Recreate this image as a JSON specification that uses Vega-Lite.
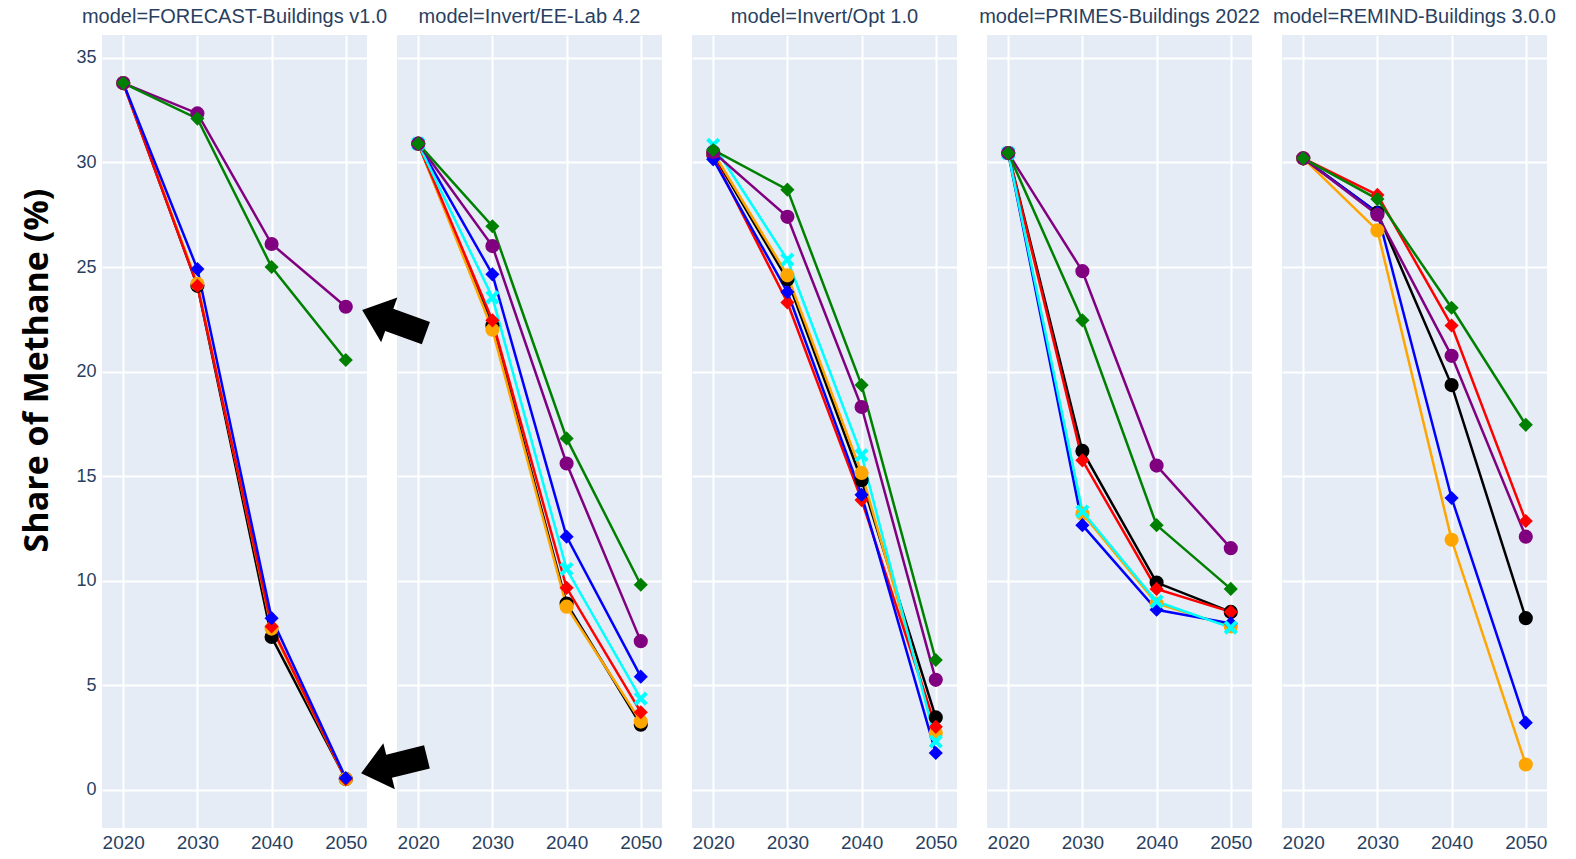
{
  "$schema": "https://vega.github.io/schema/vega-lite/v6.json",
  "background": "white",
  "padding": {"left": 20, "top": 7, "right": 0, "bottom": 0},
  "bounds": "flush",
  "data": {
    "values": [
      {"model": "model=FORECAST-Buildings v1.0", "series": "black", "kind": "series", "year": 2020, "value": 33.8},
      {"model": "model=FORECAST-Buildings v1.0", "series": "black", "kind": "series", "year": 2030, "value": 24.1},
      {"model": "model=FORECAST-Buildings v1.0", "series": "black", "kind": "series", "year": 2040, "value": 7.3},
      {"model": "model=FORECAST-Buildings v1.0", "series": "black", "kind": "series", "year": 2050, "value": 0.5},
      {"model": "model=FORECAST-Buildings v1.0", "series": "orange", "kind": "series", "year": 2020, "value": 33.8},
      {"model": "model=FORECAST-Buildings v1.0", "series": "orange", "kind": "series", "year": 2030, "value": 24.2},
      {"model": "model=FORECAST-Buildings v1.0", "series": "orange", "kind": "series", "year": 2040, "value": 7.7},
      {"model": "model=FORECAST-Buildings v1.0", "series": "orange", "kind": "series", "year": 2050, "value": 0.5},
      {"model": "model=FORECAST-Buildings v1.0", "series": "red", "kind": "series", "year": 2020, "value": 33.8},
      {"model": "model=FORECAST-Buildings v1.0", "series": "red", "kind": "series", "year": 2030, "value": 24.1},
      {"model": "model=FORECAST-Buildings v1.0", "series": "red", "kind": "series", "year": 2040, "value": 7.8},
      {"model": "model=FORECAST-Buildings v1.0", "series": "red", "kind": "series", "year": 2050, "value": 0.5},
      {"model": "model=FORECAST-Buildings v1.0", "series": "blue", "kind": "series", "year": 2020, "value": 33.8},
      {"model": "model=FORECAST-Buildings v1.0", "series": "blue", "kind": "series", "year": 2030, "value": 24.9},
      {"model": "model=FORECAST-Buildings v1.0", "series": "blue", "kind": "series", "year": 2040, "value": 8.2},
      {"model": "model=FORECAST-Buildings v1.0", "series": "blue", "kind": "series", "year": 2050, "value": 0.55},
      {"model": "model=FORECAST-Buildings v1.0", "series": "purple", "kind": "series", "year": 2020, "value": 33.8},
      {"model": "model=FORECAST-Buildings v1.0", "series": "purple", "kind": "series", "year": 2030, "value": 32.35},
      {"model": "model=FORECAST-Buildings v1.0", "series": "purple", "kind": "series", "year": 2040, "value": 26.1},
      {"model": "model=FORECAST-Buildings v1.0", "series": "purple", "kind": "series", "year": 2050, "value": 23.1},
      {"model": "model=FORECAST-Buildings v1.0", "series": "green", "kind": "series", "year": 2020, "value": 33.8},
      {"model": "model=FORECAST-Buildings v1.0", "series": "green", "kind": "series", "year": 2030, "value": 32.1},
      {"model": "model=FORECAST-Buildings v1.0", "series": "green", "kind": "series", "year": 2040, "value": 25.0},
      {"model": "model=FORECAST-Buildings v1.0", "series": "green", "kind": "series", "year": 2050, "value": 20.55},

      {"model": "model=Invert/EE-Lab 4.2", "series": "black", "kind": "series", "year": 2020, "value": 30.9},
      {"model": "model=Invert/EE-Lab 4.2", "series": "black", "kind": "series", "year": 2030, "value": 22.2},
      {"model": "model=Invert/EE-Lab 4.2", "series": "black", "kind": "series", "year": 2040, "value": 8.9},
      {"model": "model=Invert/EE-Lab 4.2", "series": "black", "kind": "series", "year": 2050, "value": 3.1},
      {"model": "model=Invert/EE-Lab 4.2", "series": "orange", "kind": "series", "year": 2020, "value": 30.9},
      {"model": "model=Invert/EE-Lab 4.2", "series": "orange", "kind": "series", "year": 2030, "value": 22.0},
      {"model": "model=Invert/EE-Lab 4.2", "series": "orange", "kind": "series", "year": 2040, "value": 8.75},
      {"model": "model=Invert/EE-Lab 4.2", "series": "orange", "kind": "series", "year": 2050, "value": 3.25},
      {"model": "model=Invert/EE-Lab 4.2", "series": "red", "kind": "series", "year": 2020, "value": 30.9},
      {"model": "model=Invert/EE-Lab 4.2", "series": "red", "kind": "series", "year": 2030, "value": 22.45},
      {"model": "model=Invert/EE-Lab 4.2", "series": "red", "kind": "series", "year": 2040, "value": 9.65},
      {"model": "model=Invert/EE-Lab 4.2", "series": "red", "kind": "series", "year": 2050, "value": 3.7},
      {"model": "model=Invert/EE-Lab 4.2", "series": "blue", "kind": "series", "year": 2020, "value": 30.9},
      {"model": "model=Invert/EE-Lab 4.2", "series": "blue", "kind": "series", "year": 2030, "value": 24.65},
      {"model": "model=Invert/EE-Lab 4.2", "series": "blue", "kind": "series", "year": 2040, "value": 12.1},
      {"model": "model=Invert/EE-Lab 4.2", "series": "blue", "kind": "series", "year": 2050, "value": 5.4},
      {"model": "model=Invert/EE-Lab 4.2", "series": "cyan", "kind": "series", "year": 2020, "value": 30.9},
      {"model": "model=Invert/EE-Lab 4.2", "series": "cyan", "kind": "series", "year": 2030, "value": 23.55},
      {"model": "model=Invert/EE-Lab 4.2", "series": "cyan", "kind": "series", "year": 2040, "value": 10.55},
      {"model": "model=Invert/EE-Lab 4.2", "series": "cyan", "kind": "series", "year": 2050, "value": 4.35},
      {"model": "model=Invert/EE-Lab 4.2", "series": "purple", "kind": "series", "year": 2020, "value": 30.9},
      {"model": "model=Invert/EE-Lab 4.2", "series": "purple", "kind": "series", "year": 2030, "value": 26.0},
      {"model": "model=Invert/EE-Lab 4.2", "series": "purple", "kind": "series", "year": 2040, "value": 15.6},
      {"model": "model=Invert/EE-Lab 4.2", "series": "purple", "kind": "series", "year": 2050, "value": 7.1},
      {"model": "model=Invert/EE-Lab 4.2", "series": "green", "kind": "series", "year": 2020, "value": 30.9},
      {"model": "model=Invert/EE-Lab 4.2", "series": "green", "kind": "series", "year": 2030, "value": 26.95},
      {"model": "model=Invert/EE-Lab 4.2", "series": "green", "kind": "series", "year": 2040, "value": 16.8},
      {"model": "model=Invert/EE-Lab 4.2", "series": "green", "kind": "series", "year": 2050, "value": 9.8},

      {"model": "model=Invert/Opt 1.0", "series": "black", "kind": "series", "year": 2020, "value": 30.4},
      {"model": "model=Invert/Opt 1.0", "series": "black", "kind": "series", "year": 2030, "value": 24.4},
      {"model": "model=Invert/Opt 1.0", "series": "black", "kind": "series", "year": 2040, "value": 14.8},
      {"model": "model=Invert/Opt 1.0", "series": "black", "kind": "series", "year": 2050, "value": 3.45},
      {"model": "model=Invert/Opt 1.0", "series": "orange", "kind": "series", "year": 2020, "value": 30.5},
      {"model": "model=Invert/Opt 1.0", "series": "orange", "kind": "series", "year": 2030, "value": 24.6},
      {"model": "model=Invert/Opt 1.0", "series": "orange", "kind": "series", "year": 2040, "value": 15.15},
      {"model": "model=Invert/Opt 1.0", "series": "orange", "kind": "series", "year": 2050, "value": 2.7},
      {"model": "model=Invert/Opt 1.0", "series": "red", "kind": "series", "year": 2020, "value": 30.3},
      {"model": "model=Invert/Opt 1.0", "series": "red", "kind": "series", "year": 2030, "value": 23.3},
      {"model": "model=Invert/Opt 1.0", "series": "red", "kind": "series", "year": 2040, "value": 13.85},
      {"model": "model=Invert/Opt 1.0", "series": "red", "kind": "series", "year": 2050, "value": 3.0},
      {"model": "model=Invert/Opt 1.0", "series": "blue", "kind": "series", "year": 2020, "value": 30.15},
      {"model": "model=Invert/Opt 1.0", "series": "blue", "kind": "series", "year": 2030, "value": 23.8},
      {"model": "model=Invert/Opt 1.0", "series": "blue", "kind": "series", "year": 2040, "value": 14.1},
      {"model": "model=Invert/Opt 1.0", "series": "blue", "kind": "series", "year": 2050, "value": 1.75},
      {"model": "model=Invert/Opt 1.0", "series": "cyan", "kind": "series", "year": 2020, "value": 30.85},
      {"model": "model=Invert/Opt 1.0", "series": "cyan", "kind": "series", "year": 2030, "value": 25.35},
      {"model": "model=Invert/Opt 1.0", "series": "cyan", "kind": "series", "year": 2040, "value": 16.0},
      {"model": "model=Invert/Opt 1.0", "series": "cyan", "kind": "series", "year": 2050, "value": 2.3},
      {"model": "model=Invert/Opt 1.0", "series": "purple", "kind": "series", "year": 2020, "value": 30.5},
      {"model": "model=Invert/Opt 1.0", "series": "purple", "kind": "series", "year": 2030, "value": 27.4},
      {"model": "model=Invert/Opt 1.0", "series": "purple", "kind": "series", "year": 2040, "value": 18.3},
      {"model": "model=Invert/Opt 1.0", "series": "purple", "kind": "series", "year": 2050, "value": 5.25},
      {"model": "model=Invert/Opt 1.0", "series": "green", "kind": "series", "year": 2020, "value": 30.6},
      {"model": "model=Invert/Opt 1.0", "series": "green", "kind": "series", "year": 2030, "value": 28.7},
      {"model": "model=Invert/Opt 1.0", "series": "green", "kind": "series", "year": 2040, "value": 19.35},
      {"model": "model=Invert/Opt 1.0", "series": "green", "kind": "series", "year": 2050, "value": 6.2},

      {"model": "model=PRIMES-Buildings 2022", "series": "black", "kind": "series", "year": 2020, "value": 30.45},
      {"model": "model=PRIMES-Buildings 2022", "series": "black", "kind": "series", "year": 2030, "value": 16.2},
      {"model": "model=PRIMES-Buildings 2022", "series": "black", "kind": "series", "year": 2040, "value": 9.9},
      {"model": "model=PRIMES-Buildings 2022", "series": "black", "kind": "series", "year": 2050, "value": 8.5},
      {"model": "model=PRIMES-Buildings 2022", "series": "orange", "kind": "series", "year": 2020, "value": 30.45},
      {"model": "model=PRIMES-Buildings 2022", "series": "orange", "kind": "series", "year": 2030, "value": 13.2},
      {"model": "model=PRIMES-Buildings 2022", "series": "orange", "kind": "series", "year": 2040, "value": 8.9},
      {"model": "model=PRIMES-Buildings 2022", "series": "orange", "kind": "series", "year": 2050, "value": 7.8},
      {"model": "model=PRIMES-Buildings 2022", "series": "red", "kind": "series", "year": 2020, "value": 30.45},
      {"model": "model=PRIMES-Buildings 2022", "series": "red", "kind": "series", "year": 2030, "value": 15.75},
      {"model": "model=PRIMES-Buildings 2022", "series": "red", "kind": "series", "year": 2040, "value": 9.6},
      {"model": "model=PRIMES-Buildings 2022", "series": "red", "kind": "series", "year": 2050, "value": 8.5},
      {"model": "model=PRIMES-Buildings 2022", "series": "blue", "kind": "series", "year": 2020, "value": 30.45},
      {"model": "model=PRIMES-Buildings 2022", "series": "blue", "kind": "series", "year": 2030, "value": 12.65},
      {"model": "model=PRIMES-Buildings 2022", "series": "blue", "kind": "series", "year": 2040, "value": 8.6},
      {"model": "model=PRIMES-Buildings 2022", "series": "blue", "kind": "series", "year": 2050, "value": 7.95},
      {"model": "model=PRIMES-Buildings 2022", "series": "cyan", "kind": "series", "year": 2020, "value": 30.45},
      {"model": "model=PRIMES-Buildings 2022", "series": "cyan", "kind": "series", "year": 2030, "value": 13.3},
      {"model": "model=PRIMES-Buildings 2022", "series": "cyan", "kind": "series", "year": 2040, "value": 9.0},
      {"model": "model=PRIMES-Buildings 2022", "series": "cyan", "kind": "series", "year": 2050, "value": 7.75},
      {"model": "model=PRIMES-Buildings 2022", "series": "purple", "kind": "series", "year": 2020, "value": 30.45},
      {"model": "model=PRIMES-Buildings 2022", "series": "purple", "kind": "series", "year": 2030, "value": 24.8},
      {"model": "model=PRIMES-Buildings 2022", "series": "purple", "kind": "series", "year": 2040, "value": 15.5},
      {"model": "model=PRIMES-Buildings 2022", "series": "purple", "kind": "series", "year": 2050, "value": 11.55},
      {"model": "model=PRIMES-Buildings 2022", "series": "green", "kind": "series", "year": 2020, "value": 30.45},
      {"model": "model=PRIMES-Buildings 2022", "series": "green", "kind": "series", "year": 2030, "value": 22.45},
      {"model": "model=PRIMES-Buildings 2022", "series": "green", "kind": "series", "year": 2040, "value": 12.65},
      {"model": "model=PRIMES-Buildings 2022", "series": "green", "kind": "series", "year": 2050, "value": 9.6},

      {"model": "model=REMIND-Buildings 3.0.0", "series": "black", "kind": "series", "year": 2020, "value": 30.2},
      {"model": "model=REMIND-Buildings 3.0.0", "series": "black", "kind": "series", "year": 2030, "value": 27.6},
      {"model": "model=REMIND-Buildings 3.0.0", "series": "black", "kind": "series", "year": 2040, "value": 19.35},
      {"model": "model=REMIND-Buildings 3.0.0", "series": "black", "kind": "series", "year": 2050, "value": 8.2},
      {"model": "model=REMIND-Buildings 3.0.0", "series": "orange", "kind": "series", "year": 2020, "value": 30.2},
      {"model": "model=REMIND-Buildings 3.0.0", "series": "orange", "kind": "series", "year": 2030, "value": 26.75},
      {"model": "model=REMIND-Buildings 3.0.0", "series": "orange", "kind": "series", "year": 2040, "value": 11.95},
      {"model": "model=REMIND-Buildings 3.0.0", "series": "orange", "kind": "series", "year": 2050, "value": 1.2},
      {"model": "model=REMIND-Buildings 3.0.0", "series": "red", "kind": "series", "year": 2020, "value": 30.2},
      {"model": "model=REMIND-Buildings 3.0.0", "series": "red", "kind": "series", "year": 2030, "value": 28.45},
      {"model": "model=REMIND-Buildings 3.0.0", "series": "red", "kind": "series", "year": 2040, "value": 22.2},
      {"model": "model=REMIND-Buildings 3.0.0", "series": "red", "kind": "series", "year": 2050, "value": 12.85},
      {"model": "model=REMIND-Buildings 3.0.0", "series": "blue", "kind": "series", "year": 2020, "value": 30.2},
      {"model": "model=REMIND-Buildings 3.0.0", "series": "blue", "kind": "series", "year": 2030, "value": 27.6},
      {"model": "model=REMIND-Buildings 3.0.0", "series": "blue", "kind": "series", "year": 2040, "value": 13.95},
      {"model": "model=REMIND-Buildings 3.0.0", "series": "blue", "kind": "series", "year": 2050, "value": 3.2},
      {"model": "model=REMIND-Buildings 3.0.0", "series": "purple", "kind": "series", "year": 2020, "value": 30.2},
      {"model": "model=REMIND-Buildings 3.0.0", "series": "purple", "kind": "series", "year": 2030, "value": 27.5},
      {"model": "model=REMIND-Buildings 3.0.0", "series": "purple", "kind": "series", "year": 2040, "value": 20.75},
      {"model": "model=REMIND-Buildings 3.0.0", "series": "purple", "kind": "series", "year": 2050, "value": 12.1},
      {"model": "model=REMIND-Buildings 3.0.0", "series": "green", "kind": "series", "year": 2020, "value": 30.2},
      {"model": "model=REMIND-Buildings 3.0.0", "series": "green", "kind": "series", "year": 2030, "value": 28.25},
      {"model": "model=REMIND-Buildings 3.0.0", "series": "green", "kind": "series", "year": 2040, "value": 23.05},
      {"model": "model=REMIND-Buildings 3.0.0", "series": "green", "kind": "series", "year": 2050, "value": 17.45},

      {"model": "model=Invert/EE-Lab 4.2", "series": "arrow", "kind": "arrow_up", "year": 2016.74, "value": 22.39},
      {"model": "model=Invert/EE-Lab 4.2", "series": "arrow", "kind": "arrow_down", "year": 2016.74, "value": 1.17}
    ]
  },
  "facet": {
    "column": {
      "field": "model",
      "type": "nominal",
      "sort": ["model=FORECAST-Buildings v1.0", "model=Invert/EE-Lab 4.2", "model=Invert/Opt 1.0", "model=PRIMES-Buildings 2022", "model=REMIND-Buildings 3.0.0"],
      "header": {
        "title": null,
        "labelOrient": "top",
        "labelFont": "Liberation Sans",
        "labelFontSize": 20,
        "labelColor": "#2a3f5f",
        "labelBaseline": "alphabetic",
        "labelPadding": -8,
        "labelLimit": 0
      }
    }
  },
  "spacing": 30,
  "spec": {
    "width": 265,
    "height": 793,
    "layer": [
      {
        "transform": [{"filter": "datum.kind === 'series'"}],
        "mark": {"type": "line", "strokeWidth": 2.5},
        "encoding": {
          "x": {"field": "year", "type": "quantitative",
            "scale": {"domain": [2017.14, 2052.86], "nice": false, "zero": false},
            "axis": {"values": [2020, 2030, 2040, 2050], "format": "d", "title": null,
              "grid": true, "gridColor": "#ffffff", "gridWidth": 2, "gridOpacity": 1,
              "domain": false, "ticks": false,
              "labelFont": "Liberation Sans", "labelFontSize": 19, "labelColor": "#2a3f5f", "labelPadding": 5}},
          "y": {"field": "value", "type": "quantitative",
            "scale": {"domain": [-1.84, 36.1], "nice": false, "zero": false},
            "axis": {"values": [0, 5, 10, 15, 20, 25, 30, 35], "title": "Share of Methane (%)",
              "grid": true, "gridColor": "#ffffff", "gridWidth": 2, "gridOpacity": 1,
              "domain": false, "ticks": false,
              "labelFont": "Liberation Sans", "labelFontSize": 18, "labelColor": "#2a3f5f", "labelPadding": 6,
              "titleFont": "Open Sans", "titleFontWeight": "bold", "titleFontSize": 34, "titleColor": "#000000",
              "titleX": -65, "titleY": 335, "titleAlign": "center", "titleBaseline": "middle", "titleAngle": -90}},
          "color": {"field": "series", "type": "nominal", "legend": null,
            "scale": {"domain": ["black", "orange", "red", "blue", "cyan", "purple", "green"],
                      "range": ["#000000", "#FFA500", "#FF0000", "#0000FF", "#00FFFF", "#800080", "#008000"]}}
        }
      },
      {
        "transform": [{"filter": "datum.kind === 'series'"}],
        "mark": {"type": "point", "filled": true, "opacity": 1},
        "encoding": {
          "x": {"field": "year", "type": "quantitative"},
          "y": {"field": "value", "type": "quantitative"},
          "color": {"field": "series", "type": "nominal", "legend": null},
          "shape": {"field": "series", "type": "nominal", "legend": null,
            "scale": {"domain": ["black", "orange", "red", "blue", "cyan", "purple", "green"],
                      "range": ["circle", "circle", "diamond", "diamond", "M-1,-0.6L-0.6,-1L0,-0.4L0.6,-1L1,-0.6L0.4,0L1,0.6L0.6,1L0,0.4L-0.6,1L-1,0.6L-0.4,0Z", "circle", "diamond"]}},
          "size": {"field": "series", "type": "nominal", "legend": null,
            "scale": {"domain": ["black", "orange", "red", "blue", "cyan", "purple", "green"],
                      "range": [200, 200, 320, 320, 220, 200, 320]}}
        }
      },
      {
        "transform": [{"filter": "datum.kind === 'arrow_up'"}],
        "mark": {"type": "point", "filled": true, "opacity": 1, "color": "#000000", "size": 4600, "angle": 20,
                 "shape": "M-1,0L-0.15,-0.7L-0.15,-0.35L1,-0.35L1,0.35L-0.15,0.35L-0.15,0.7Z"},
        "encoding": {
          "x": {"field": "year", "type": "quantitative"},
          "y": {"field": "value", "type": "quantitative"}
        }
      },
      {
        "transform": [{"filter": "datum.kind === 'arrow_down'"}],
        "mark": {"type": "point", "filled": true, "opacity": 1, "color": "#000000", "size": 4600, "angle": -14,
                 "shape": "M-1,0L-0.15,-0.7L-0.15,-0.35L1,-0.35L1,0.35L-0.15,0.35L-0.15,0.7Z"},
        "encoding": {
          "x": {"field": "year", "type": "quantitative"},
          "y": {"field": "value", "type": "quantitative"}
        }
      }
    ]
  },
  "config": {
    "view": {"fill": "#E5ECF6", "stroke": null}
  }
}
